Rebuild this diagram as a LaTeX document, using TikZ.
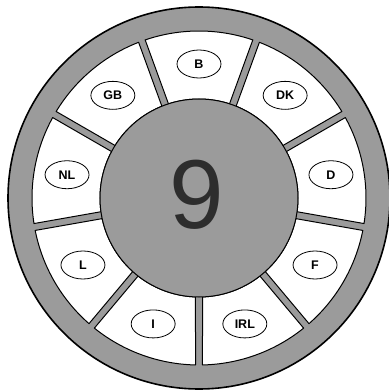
\documentclass[tikz,border=0pt]{standalone}
\usepackage{fontspec}
\setmainfont{Liberation Sans}
\usetikzlibrary{shapes.geometric}
\definecolor{ringgray}{RGB}{155,155,155}
\definecolor{ninecol}{RGB}{45,45,45}
\tikzset{
  ring/.style={fill=ringgray, draw=black, line width=1.6pt},
  segment/.style={fill=white, draw=black, line width=1pt, line join=round},
  hub/.style={fill=ringgray, draw=black, line width=1pt},
  tag/.style={ellipse, draw=black, line width=0.8pt, fill=white, minimum width=44pt, minimum height=28pt, inner sep=0pt, font=\bfseries\fontsize{12.5}{13}\selectfont},
  bignum/.style={inner sep=0pt, text=ninecol, font=\fontsize{98}{98}\selectfont}
}
\begin{document}
\begin{tikzpicture}[x=1pt,y=1pt]
\useasboundingbox (0,0) rectangle (389,392);
\begin{scope}[shift={(199,194)}]
  \fill[ring] (0,0) circle[radius=191];
  \foreach \i/\lab in {0/B,1/GB,2/NL,3/L,4/I,5/IRL,6/F,7/D,8/DK}{
    \pgfmathsetmacro{\c}{90+40*\i}
    \pgfmathsetmacro{\ao}{\c-20+1.2}
    \pgfmathsetmacro{\bo}{\c+20-1.2}
    \pgfmathsetmacro{\ai}{\c-20+2.03}
    \pgfmathsetmacro{\bi}{\c+20-2.03}
    \draw[segment] (\ao:167) arc[start angle=\ao, end angle=\bo, radius=167]
      -- (\bi:99) arc[start angle=\bi, end angle=\ai, radius=99] -- cycle;
    \node[tag] (t\i) at (\c:134) {\lab};
  }
  \draw[hub] (0,0) circle[radius=99];
  \node[bignum] (nine) at (-2,3) {9};
\end{scope}
\end{tikzpicture}
\end{document}
